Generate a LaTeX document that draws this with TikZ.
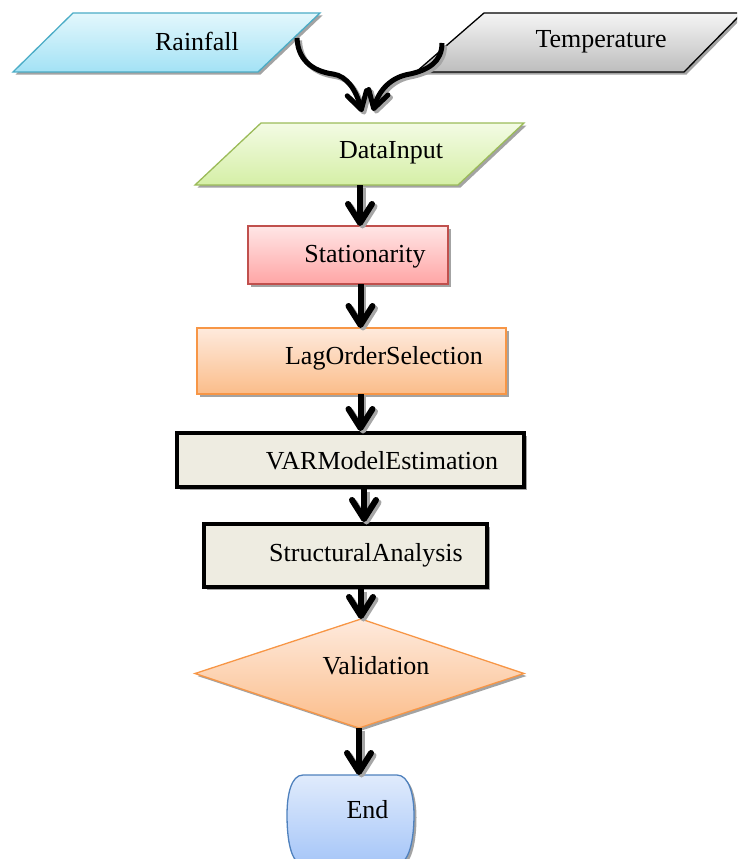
\documentclass[tikz,border=0pt]{standalone}
\usepackage{fontspec}
\setmainfont{Liberation Serif}
\usetikzlibrary{arrows.meta,shadows,calc}
\definecolor{rainTop}{HTML}{E3F7FC}
\definecolor{rainBot}{HTML}{A3E2F5}
\definecolor{rainLine}{HTML}{4BACC6}
\definecolor{tempTop}{HTML}{F5F5F5}
\definecolor{tempBot}{HTML}{BDBDBD}
\definecolor{dinTop}{HTML}{F3FBE4}
\definecolor{dinBot}{HTML}{D5EFA6}
\definecolor{dinLine}{HTML}{9BBB59}
\definecolor{statTop}{HTML}{FFE6E6}
\definecolor{statBot}{HTML}{FFA5A5}
\definecolor{statLine}{HTML}{C0504D}
\definecolor{orTop}{HTML}{FEEADD}
\definecolor{orBot}{HTML}{FBBD8A}
\definecolor{orLine}{HTML}{F79646}
\definecolor{boxFill}{HTML}{EEECE1}
\definecolor{endTop}{HTML}{E0EBFC}
\definecolor{endBot}{HTML}{A6C6F8}
\definecolor{endLine}{HTML}{4F81BD}
\begin{document}
\begin{tikzpicture}[x=1pt,y=-1pt,
  font=\fontsize{26}{30}\selectfont,
  lbl/.style={anchor=base,inner sep=0pt},
  shd/.style={drop shadow={shadow xshift=2.5pt,shadow yshift=-2.5pt,fill=black!45,opacity=0.8}},
  boxnode/.style={rectangle,inner sep=0pt,outer sep=0pt},
  flow/.style={line width=6pt,-{Straight Barb[length=19pt,width=24pt,round]}},
  flowshd/.style={flow,draw=black!35,transform canvas={shift={(2.5pt,-2.5pt)}}},
  curly/.style={line width=5pt,-{Straight Barb[length=17pt,width=20pt,round]}},
  curlyshd/.style={curly,draw=black!35,transform canvas={shift={(2.5pt,-2.5pt)}}}]
\useasboundingbox (0,0) rectangle (737,859);
\clip (0,0) rectangle (737,859);

% Rainfall
\draw[shd,draw=rainLine,line width=1.3pt,top color=rainTop,bottom color=rainBot]
  (73,13) -- (320,13) -- (258,72) -- (13,72) -- cycle;
\node[lbl] (t-rain) at (197,51) {Rainfall};
\coordinate (rainOut) at (297,38);

% Temperature
\draw[shd,draw=black,line width=1.3pt,top color=tempTop,bottom color=tempBot]
  (484,13) -- (742,13) -- (684,72) -- (416,72) -- cycle;
\node[lbl] (t-temp) at (601,48) {Temperature};
\coordinate (tempOut) at (442,43);

% DataInput
\draw[shd,draw=dinLine,line width=1.3pt,top color=dinTop,bottom color=dinBot]
  (261,123) -- (524,123) -- (458,185) -- (195,185) -- cycle;
\node[lbl] (t-din) at (391,158) {DataInput};
\coordinate (dinL) at (362,112);
\coordinate (dinR) at (373,111);
\coordinate (dinB) at (360,185);

% Stationarity
\node[boxnode,shd,draw=statLine,line width=1.3pt,top color=statTop,bottom color=statBot,
  minimum width=200pt,minimum height=58pt] (stat) at (348,255) {};
\node[lbl] (t-stat) at (365,262) {Stationarity};
\coordinate (statX) at (360.5,0);

% LagOrderSelection
\node[boxnode,shd,draw=orLine,line width=1.3pt,top color=orTop,bottom color=orBot,
  minimum width=309pt,minimum height=66pt] (lag) at (351.5,361) {};
\node[lbl] (t-lag) at (384,364) {LagOrderSelection};

% VARModelEstimation
\node[boxnode,shd,draw=black,line width=4.5pt,fill=boxFill,
  minimum width=347pt,minimum height=54pt] (var) at (350.5,460) {};
\node[lbl] (t-var) at (382,469) {VARModelEstimation};
\coordinate (varX) at (364,0);

% StructuralAnalysis
\node[boxnode,shd,draw=black,line width=4.5pt,fill=boxFill,
  minimum width=283pt,minimum height=63pt] (str) at (345.5,555.5) {};
\node[lbl] (t-str) at (366,561) {StructuralAnalysis};
\coordinate (strX) at (361,0);

% Validation
\draw[shd,draw=orLine,line width=1.3pt,top color=orTop,bottom color=orBot]
  (361,619) -- (524,673.5) -- (359,728) -- (195,673.5) -- cycle;
\node[lbl] (t-val) at (376,674) {Validation};
\coordinate (valT) at (361,619);
\coordinate (valB) at (359,728);

% End
\draw[shd,draw=endLine,line width=1.3pt,top color=endTop,bottom color=endBot]
  (303,775) -- (397,775) .. controls (409,775) and (414,795) .. (414,815)
  .. controls (414,840) and (409,864) .. (397,864) -- (303,864)
  .. controls (291,864) and (287,840) .. (287,815)
  .. controls (287,795) and (291,775) .. (303,775) -- cycle;
\node[lbl] (t-end) at (367.5,818) {End};
\coordinate (endT) at (359,775);

% curly connectors
\draw[curlyshd] (rainOut) .. controls (298,64) and (318,72) .. (333,74)
  .. controls (347,76) and (356,90) .. (dinL);
\draw[curlyshd] (tempOut) .. controls (442,62) and (428,70) .. (410,74)
  .. controls (391,77) and (379,90) .. (dinR);
\draw[curly] (rainOut) .. controls (298,64) and (318,72) .. (333,74)
  .. controls (347,76) and (356,90) .. (dinL);
\draw[curly] (tempOut) .. controls (442,62) and (428,70) .. (410,74)
  .. controls (391,77) and (379,90) .. (dinR);

% straight connectors: shadows
\draw[flowshd] (dinB) -- (stat.north -| dinB);
\draw[flowshd] (stat.south -| statX) -- (lag.north -| statX);
\draw[flowshd] (lag.south -| statX) -- ($(var.north -| statX)+(0,-2)$);
\draw[flowshd] ($(var.south -| varX)+(0,2)$) -- ($(str.north -| varX)+(0,-2)$);
\draw[flowshd] ($(str.south -| strX)+(0,2)$) -- (valT);
\draw[flowshd] (valB) -- (endT);
% straight connectors
\draw[flow] (dinB) -- (stat.north -| dinB);
\draw[flow] (stat.south -| statX) -- (lag.north -| statX);
\draw[flow] (lag.south -| statX) -- ($(var.north -| statX)+(0,-2)$);
\draw[flow] ($(var.south -| varX)+(0,2)$) -- ($(str.north -| varX)+(0,-2)$);
\draw[flow] ($(str.south -| strX)+(0,2)$) -- (valT);
\draw[flow] (valB) -- (endT);
\end{tikzpicture}
\end{document}
